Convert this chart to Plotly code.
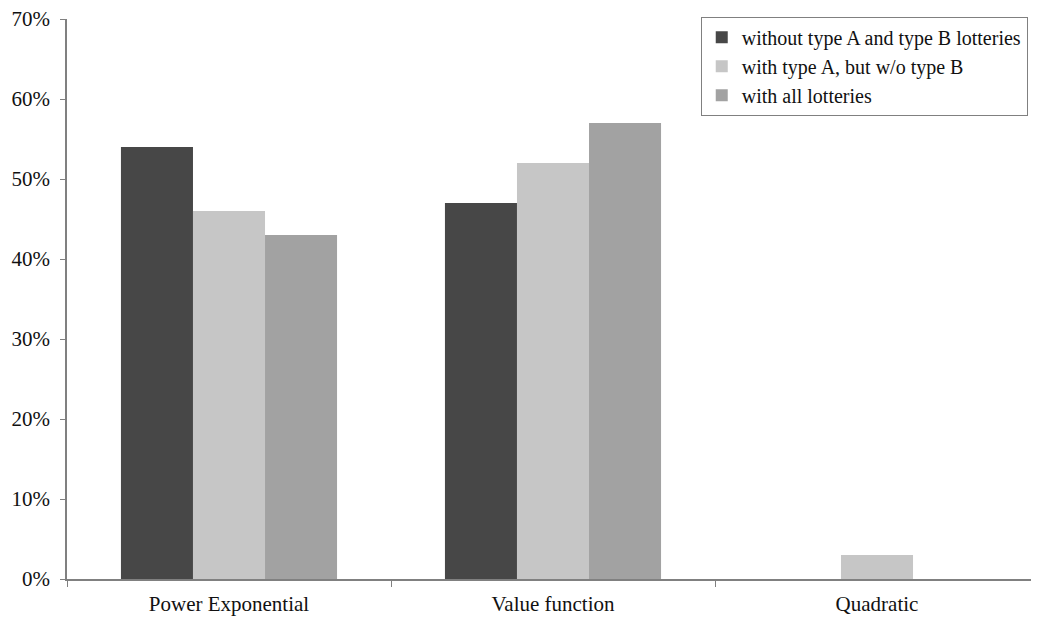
import plotly.graph_objects as go

categories = ["Power Exponential", "Value function", "Quadratic"]
series_names = ["without type A and type B lotteries", "with type A, but w/o type B", "with all lotteries"]
without_ab = [0.54, 0.47, 0.0]
with_a = [0.46, 0.52, 0.03]
with_all = [0.43, 0.57, 0.0]
colors = ["#474747", "#c6c6c6", "#a2a2a2"]
tick_vals = [0, 0.1, 0.2, 0.3, 0.4, 0.5, 0.6, 0.7]
tick_text = ["0%", "10%", "20%", "30%", "40%", "50%", "60%", "70%"]

font = dict(family="Liberation Serif, Times New Roman, serif", size=21, color="#111111")
legend_font = dict(family="Liberation Serif, Times New Roman, serif", size=20, color="#111111")

fig = go.Figure()
for name, vals, col in zip(series_names, [without_ab, with_a, with_all], colors):
    fig.add_trace(go.Bar(x=categories, y=vals, name=name, marker=dict(color=col, line=dict(width=0))))

# the page body adds an 8px offset; sizes/margins compensate for it
fig.update_layout(
    width=1031, height=612,
    margin=dict(l=59, r=0, t=11, b=41, autoexpand=False),
    paper_bgcolor="white", plot_bgcolor="white",
    barmode="group", bargap=0.333, bargroupgap=0,
    font=font,
    showlegend=True,
    legend=dict(x=0.652, y=1.004, xanchor="left", yanchor="top",
                bgcolor="white", bordercolor="#808080", borderwidth=1,
                font=legend_font, itemwidth=30, tracegroupgap=0),
)
fig.update_xaxes(showline=True, linecolor="#808080", linewidth=1.5,
                 ticks="outside", tickson="boundaries", ticklen=6, tickcolor="#808080",
                 showgrid=False, tickfont=font, automargin=False, ticklabeloverflow="allow",
                 ticklabelstandoff=5)
fig.update_yaxes(range=[0, 0.7], tickvals=tick_vals, ticktext=tick_text,
                 showline=True, linecolor="#808080", linewidth=1.5,
                 ticks="outside", ticklen=5, tickcolor="#808080",
                 showgrid=False, zeroline=False, tickfont=font, automargin=False,
                 ticklabeloverflow="allow", ticklabelstandoff=6)

fig.write_html("out.html")
